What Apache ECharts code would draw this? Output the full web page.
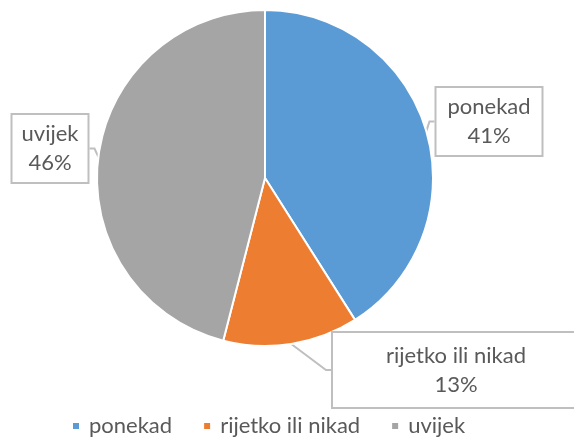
<!DOCTYPE html>
<html>
<head>
<meta charset="utf-8">
<script src="https://cdn.jsdelivr.net/npm/echarts@6/dist/echarts.min.js"></script>
<style>
  html, body { margin: 0; padding: 0; background: #fff; }
  #chart { width: 574px; height: 442px; }
</style>
</head>
<body>
<div id="chart"></div>
<script>
// podaci
const categories = ['ponekad', 'rijetko ili nikad', 'uvijek']
const values = [41, 13, 46]
const colors = ['#5B9BD5', '#ED7D31', '#A5A5A5']

// oblačići s oznakama: središte x, vrh, širina, visina (redom kao categories)
const labelBoxes = [
    { cx: 489, top: 88, width: 105, height: 67 },
    { cx: 456, top: 333, width: 246, height: 74 },
    { cx: 50, top: 115, width: 75, height: 67 }
]

const font = 'Lato, "Open Sans", sans-serif'
const lineH = 29

const myChart = echarts.init(document.getElementById('chart'))

const option = {
    color: colors,
    legend: {
        top: 410,
        left: 66,
        icon: 'rect',
        itemWidth: 8,
        itemHeight: 8,
        itemGap: 30,
        textStyle: {
            color: '#595959',
            fontSize: 22,
            fontFamily: font,
            padding: [0, 0, 0, 4]
        },
        data: categories
    },
    series: [{
        type: 'pie',
        center: [265, 178],
        radius: 168,
        startAngle: 90,
        clockwise: true,
        animation: false,
        itemStyle: {
            borderColor: '#ffffff',
            borderWidth: 2
        },
        label: {
            show: true,
            formatter: p => p.name + '\n' + p.percent.toFixed(0) + '%',
            color: '#595959',
            fontSize: 22,
            fontFamily: font,
            lineHeight: lineH,
            align: 'center',
            backgroundColor: '#ffffff',
            borderColor: '#BFBFBF',
            borderWidth: 2
        },
        labelLine: {
            show: true,
            length: 5,
            length2: 5,
            lineStyle: {
                color: '#BFBFBF',
                width: 2
            }
        },
        labelLayout: params => {
            const box = labelBoxes[params.dataIndex]
            return {
                x: box.cx,
                y: box.top,
                align: 'center',
                verticalAlign: 'top',
                hideOverlap: false,
                moveOverlap: false
            }
        },
        data: categories.map((name, i) => ({
            name: name,
            value: values[i],
            label: {
                width: labelBoxes[i].width,
                padding: [(labelBoxes[i].height - 2 * lineH) / 2, 0]
            }
        }))
    }]
}

myChart.setOption(option)
</script>
</body>
</html>
